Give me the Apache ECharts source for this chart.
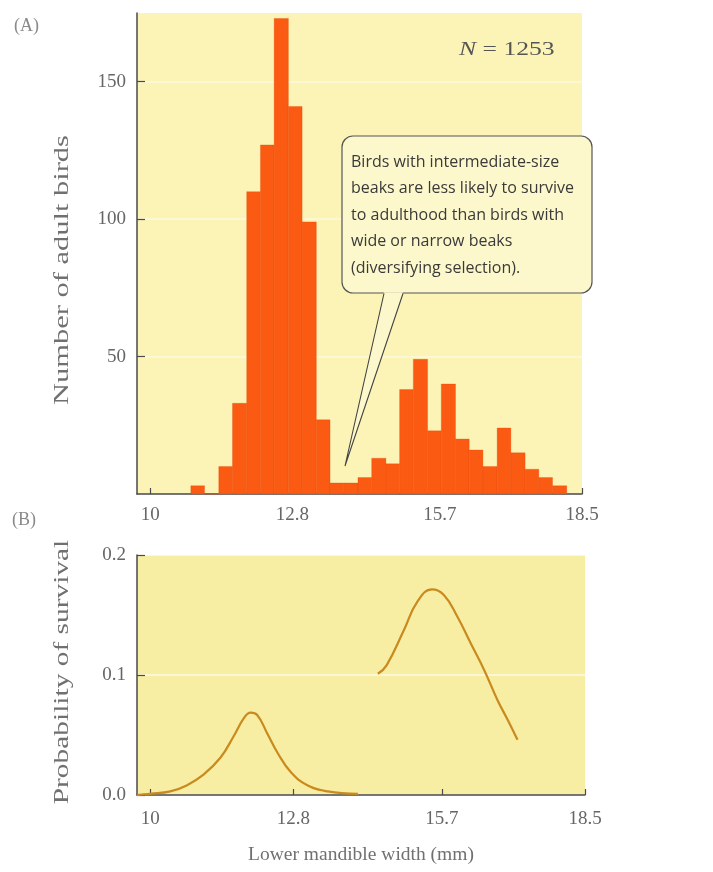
<!DOCTYPE html>
<html>
<head>
<meta charset="utf-8">
<script src="https://cdn.jsdelivr.net/npm/echarts@6.0.0/dist/echarts.min.js"></script>
<style>
html,body{margin:0;padding:0;background:#fff;}
#chart{width:713px;height:872px;}
</style>
</head>
<body>
<div id="chart"></div>
<script>
// ---- data ----
const binEdges = [10.80, 11.07, 11.35, 11.62, 11.90, 12.17, 12.44, 12.72, 12.99, 13.27, 13.54, 13.81, 14.09, 14.36, 14.64, 14.91, 15.18, 15.46, 15.73, 16.01, 16.28, 16.55, 16.83, 17.10, 17.38, 17.65, 17.92, 18.20];
const birdCounts = [3, 0, 10, 33, 110, 127, 173, 141, 99, 27, 4, 4, 6, 13, 11, 38, 49, 23, 40, 20, 16, 10, 24, 15, 9, 6, 3];
const xTicks = [10, 12.8, 15.7, 18.5];
const countTicks = [50, 100, 150];
const survivalNarrowX = [9.74, 10.0, 10.39, 10.71, 11.04, 11.37, 11.63, 11.83, 11.96, 12.09, 12.29, 12.49, 12.75, 13.08, 13.47, 14.06];
const survivalNarrowY = [0.000, 0.001, 0.003, 0.008, 0.017, 0.031, 0.049, 0.064, 0.0686, 0.0667, 0.051, 0.035, 0.019, 0.008, 0.003, 0.001];
const survivalWideX = [14.45, 14.62, 14.96, 15.22, 15.51, 15.74, 16.00, 16.27, 16.53, 16.79, 16.99, 17.18];
const survivalWideY = [0.101, 0.108, 0.1375, 0.161, 0.1714, 0.1667, 0.149, 0.126, 0.104, 0.079, 0.0625, 0.046];
const annotationLines = [
  'Birds with intermediate-size',
  'beaks are less likely to survive',
  'to adulthood than birds with',
  'wide or narrow beaks',
  '(diversifying selection).'
];
const yNameTop = 'Number of adult birds';
const yNameBottom = 'Probability of survival';
const xNameBottom = 'Lower mandible width (mm)';

const histData = birdCounts.map((c, i) => [binEdges[i], binEdges[i + 1], c]);
const narrowData = survivalNarrowX.map((x, i) => [x, survivalNarrowY[i]]);
const wideData = survivalWideX.map((x, i) => [x, survivalWideY[i]]);

const SERIF = '"Liberation Serif", "DejaVu Serif", serif';
const axisColor = '#4a4a4a';
const labelColor = '#666';
const nameColor = '#707070';

function xAxisCfg(gridIndex, showName) {
  return {
    type: 'value', gridIndex: gridIndex, min: 9.74, max: 18.5,
    axisLine: {show: true, onZero: false, lineStyle: {color: axisColor, width: 1.5}},
    axisTick: {show: true, inside: true, length: 6, customValues: xTicks, lineStyle: {color: axisColor, width: 1.2}},
    axisLabel: {customValues: xTicks, color: labelColor, fontFamily: SERIF, fontSize: 19, margin: gridIndex === 0 ? 12 : 15,
      formatter: v => String(v)},
    splitLine: {show: false},
    name: showName ? xNameBottom : '',
    nameLocation: 'middle', nameGap: 50,
    nameTextStyle: {color: nameColor, fontFamily: SERIF, fontSize: 19.5}
  };
}

const option = {
  animation: false,
  backgroundColor: '#ffffff',
  grid: [
    {left: 137, top: 13, width: 445, height: 481, show: true, backgroundColor: '#FBF4B6', borderWidth: 0},
    {left: 137, top: 555, width: 448, height: 240, show: true, backgroundColor: '#F8EEA3', borderWidth: 0}
  ],
  xAxis: [xAxisCfg(0, false), xAxisCfg(1, true)],
  yAxis: [
    {
      type: 'value', gridIndex: 0, min: 0, max: 175,
      axisLine: {show: true, lineStyle: {color: axisColor, width: 1.5}},
      axisTick: {show: true, inside: true, length: 8, customValues: countTicks, lineStyle: {color: axisColor, width: 1.2}},
      axisLabel: {customValues: countTicks, color: labelColor, fontFamily: SERIF, fontSize: 19, margin: 11},
      splitLine: {show: true, lineStyle: {color: 'rgba(255,255,255,0.55)', width: 1.5}}
    },
    {
      type: 'value', gridIndex: 1, min: 0, max: 0.2, interval: 0.1,
      axisLine: {show: true, lineStyle: {color: axisColor, width: 1.5}},
      axisTick: {show: true, inside: true, length: 8, lineStyle: {color: axisColor, width: 1.2}},
      axisLabel: {color: labelColor, fontFamily: SERIF, fontSize: 19, margin: 11, formatter: v => v.toFixed(1)},
      splitLine: {show: true, lineStyle: {color: 'rgba(255,255,255,0.75)', width: 1.5}}
    }
  ],
  series: [
    {
      type: 'custom', xAxisIndex: 0, yAxisIndex: 0, data: histData,
      renderItem: function (params, api) {
        const p0 = api.coord([api.value(0), api.value(2)]);
        const p1 = api.coord([api.value(1), 0]);
        return {
          type: 'rect',
          shape: {x: p0[0], y: p0[1], width: p1[0] - p0[0], height: p1[1] - p0[1]},
          style: {fill: '#FA5A12', stroke: 'rgba(230,70,10,0.5)', lineWidth: 0.6}
        };
      },
      encode: {x: [0, 1], y: 2}
    },
    {
      type: 'line', xAxisIndex: 1, yAxisIndex: 1, data: narrowData, smooth: 0.45, showSymbol: false,
      lineStyle: {color: '#C98A1E', width: 2.2}
    },
    {
      type: 'line', xAxisIndex: 1, yAxisIndex: 1, data: wideData, smooth: 0.45, showSymbol: false,
      lineStyle: {color: '#C98A1E', width: 2.2}
    }
  ],
  graphic: [
    {type: 'text', left: 14, top: 17, style: {text: '(A)', fill: '#8a8a8a', font: '18px ' + SERIF}},
    {type: 'text', left: 12, top: 511, style: {text: '(B)', fill: '#8a8a8a', font: '18px ' + SERIF}},
    {type: 'text', x: 62, y: 270, rotation: Math.PI / 2, scaleX: 1.45,
      style: {text: yNameTop, fill: nameColor, font: '21px ' + SERIF, align: 'center', verticalAlign: 'middle'}},
    {type: 'text', x: 62, y: 672, rotation: Math.PI / 2, scaleX: 1.40,
      style: {text: yNameBottom, fill: nameColor, font: '21px ' + SERIF, align: 'center', verticalAlign: 'middle'}},
    {type: 'text', x: 459, y: 50, scaleX: 1.35, style: {
      text: '{i|N} = 1253', fill: '#555', font: '19px ' + SERIF, verticalAlign: 'middle',
      rich: {i: {fontStyle: 'italic', fontFamily: SERIF, fontSize: 19, fill: '#555'}}
    }},
    {type: 'rect', shape: {x: 342, y: 136, width: 250, height: 157, r: 11},
      style: {fill: '#FCF8CC', stroke: '#555', lineWidth: 1.2}, z: 10},
    {type: 'polygon', shape: {points: [[384, 292.3], [403, 292.3], [345, 466]]},
      style: {fill: '#FCF8CC', stroke: 'none'}, z: 11},
    {type: 'polyline', shape: {points: [[384, 293.5], [345, 466], [403, 293.5]]},
      style: {fill: 'none', stroke: '#444', lineWidth: 1.1}, z: 12},
    {type: 'text', left: 351, top: 149, z: 13, style: {
      text: annotationLines.join('\n'), fill: '#3a3a3a',
      font: '16px "Open Sans", "Noto Sans", sans-serif', lineHeight: 26.5
    }}
  ]
};

const chart = echarts.init(document.getElementById('chart'), null, {renderer: 'canvas'});
chart.setOption(option);
</script>
</body>
</html>
